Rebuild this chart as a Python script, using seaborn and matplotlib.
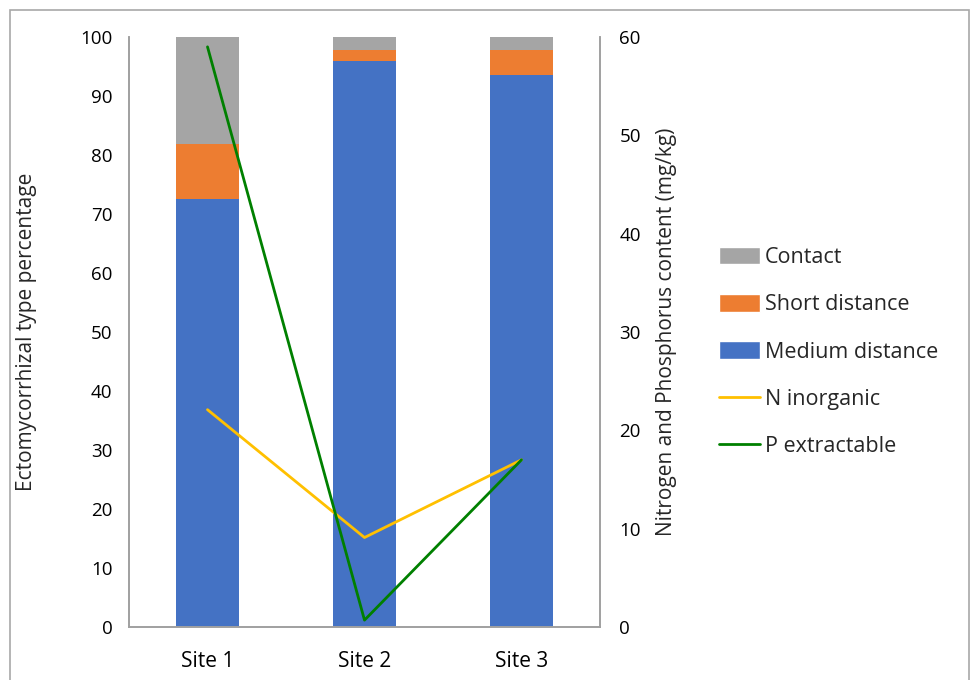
import numpy as np
import pandas as pd
import matplotlib
matplotlib.use("Agg")
import matplotlib.pyplot as plt
from matplotlib.patches import Patch, Rectangle
from matplotlib.lines import Line2D
import seaborn as sns

sites = ["Site 1", "Site 2", "Site 3"]
medium_distance = [72.6, 96.0, 93.5]
short_distance = [9.2, 1.8, 4.3]
contact = [18.2, 2.2, 2.2]
n_inorganic = [22.1, 9.1, 17.0]
p_extractable = [59.0, 0.7, 17.0]

c_contact = "#A5A5A5"
c_short = "#ED7D31"
c_medium = "#4472C4"
c_n = "#FFC000"
c_p = "#008000"
spine_c = "#A0A0A0"

sns.set_theme(style="white")
plt.rcParams["font.family"] = ["Open Sans", "DejaVu Sans"]

df = pd.DataFrame({
    "site": sites,
    "medium": medium_distance,
    "short": short_distance,
    "contact": contact,
    "n": n_inorganic,
    "p": p_extractable,
})
df["lvl_short"] = df["medium"] + df["short"]
df["lvl_contact"] = df["lvl_short"] + df["contact"]
df["pos"] = np.arange(len(df))

fig = plt.figure(figsize=(9.73, 6.8), dpi=100)
ax = fig.add_axes([129 / 973, 53 / 680, 471 / 973, 590 / 680])

# stacked bars: draw cumulative totals from the top layer down
for col, color in [("lvl_contact", c_contact), ("lvl_short", c_short), ("medium", c_medium)]:
    sns.barplot(data=df, x="site", y=col, color=color, width=0.4,
                saturation=1, ax=ax, linewidth=0)

ax.set_xlim(-0.5, 2.5)
ax.set_ylim(0, 100)
ax.set_yticks(np.arange(0, 101, 10))
ax.set_xlabel("")
ax.set_ylabel("Ectomycorrhizal type percentage", fontsize=15, labelpad=31)
ax.tick_params(axis="both", length=0, colors="black")
ax.tick_params(axis="x", pad=17.5, labelsize=15)
ax.tick_params(axis="y", pad=12, labelsize=13.5)

ax2 = ax.twinx()
sns.lineplot(data=df, x="pos", y="n", color=c_n, linewidth=2.0, ax=ax2)
sns.lineplot(data=df, x="pos", y="p", color=c_p, linewidth=2.0, ax=ax2)
ax2.set_xlim(-0.5, 2.5)
ax2.set_ylim(0, 60)
ax2.set_yticks(np.arange(0, 61, 10))
ax2.set_ylabel("Nitrogen and Phosphorus content (mg/kg)", fontsize=15, labelpad=11)
ax2.tick_params(axis="y", length=0, labelsize=13.5, colors="black", pad=14)
ax2.set_xlabel("")

for a in (ax, ax2):
    a.spines["top"].set_visible(False)
    for s in ("left", "right", "bottom"):
        a.spines[s].set_color(spine_c)
        a.spines[s].set_linewidth(1.2)

handles = [
    Patch(facecolor=c_contact, label="Contact"),
    Patch(facecolor=c_short, label="Short distance"),
    Patch(facecolor=c_medium, label="Medium distance"),
    Line2D([0], [0], color=c_n, linewidth=2, label="N inorganic"),
    Line2D([0], [0], color=c_p, linewidth=2, label="P extractable"),
]
fig.legend(handles=handles, loc="center left", bbox_to_anchor=(700 / 973, 1 - 352 / 680),
           frameon=False, fontsize=15.5, handlelength=1.9, handleheight=0.85,
           handletextpad=0.2, labelspacing=1.21)

# chart frame
fig.patches.append(Rectangle((10 / 973, -0.05), 959 / 973, 1.05 - 10 / 680,
                             transform=fig.transFigure, fill=False,
                             edgecolor="#A8A8A8", linewidth=1.2))

fig.savefig("out.png", dpi=100)
